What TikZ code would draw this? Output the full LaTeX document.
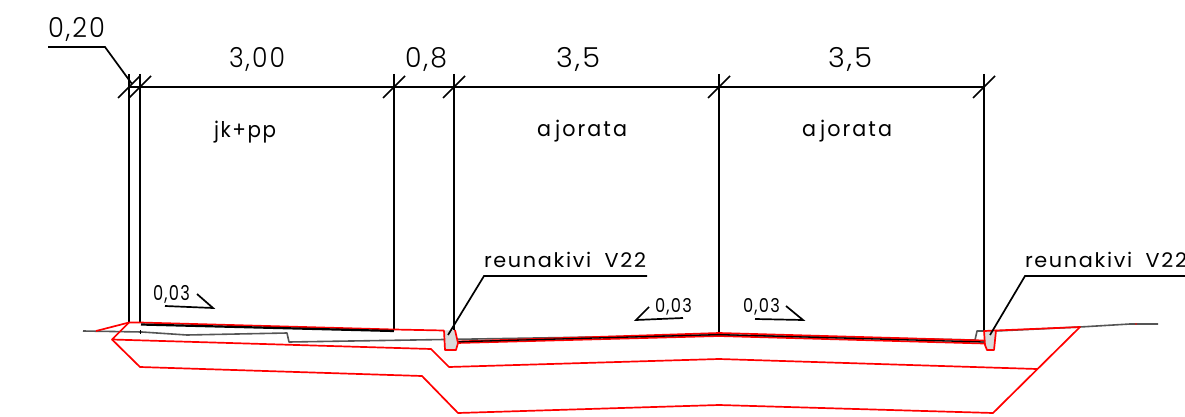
\documentclass[tikz,border=0pt]{standalone}
\usepackage{fontspec}
\usepackage{graphicx}
\newfontfamily\cadfont[LetterSpace=8]{Poppins Light}
\newfontfamily\cadsmall[LetterSpace=8]{Poppins}
\newsavebox\cadbox
\newlength\cadh
% font, width, target height of reference glyph, reference glyph, text
\newcommand\cadt[5]{%
  \settoheight{\cadh}{\fontsize{20}{20}#1\selectfont{}#4}%
  \sbox\cadbox{\fontsize{20}{20}#1\selectfont{}#5}%
  \ht\cadbox=\cadh \dp\cadbox=0pt
  \resizebox{#2pt}{#3pt}{\usebox\cadbox}}
\definecolor{roadred}{RGB}{255,0,0}
\definecolor{oldground}{RGB}{85,85,85}
\definecolor{stone}{RGB}{217,217,217}
\tikzset{x=1pt,y=-1pt,
  blk/.style={draw=black,line width=1.7pt},
  thin blk/.style={draw=black,line width=1.5pt},
  rd/.style={draw=roadred,line width=1.7pt,line join=round},
  gnd/.style={draw=oldground,line width=1.6pt,line join=round},
  curb/.style={fill=stone,draw=roadred,line width=1.7pt,line join=round},
  lab/.style={anchor=base west,inner sep=0pt,outer sep=0pt}}
\begin{document}
\begin{tikzpicture}
\useasboundingbox (0,0) rectangle (1185,417);
% ground line
\draw[gnd] (83,331) -- (142,332) -- (187,335) -- (287,333) -- (289,342) -- (444,339.5) -- (719,335) -- (975,340) -- (977,331) -- (996,331) -- (1080,327) -- (1130,324) -- (1158,324);
\draw[blk,line width=1.2pt] (140.5,330) -- (140.5,334);
% vertical lines
\foreach \n/\x/\b in {a/129/322,b/140/323,c/394/330,d/454/333,e/719/333,f/984/332}{
  \coordinate (t\n) at (\x,74);
  \coordinate (g\n) at (\x,\b);
  \draw[blk] (t\n) -- (g\n);
}
% dimension line and ticks
\coordinate (dimL) at (129,87);
\coordinate (dimR) at (984,87);
\draw[blk] (dimL) -- (dimR);
\foreach \x in {129,140,394,454,719,984}{
  \draw[thin blk] (\x-11,98) -- (\x+11,76);
}
% red layers
\draw[rd] (96,331) -- (129,322.5) -- (140,322.5) -- (394,329.5) -- (444,330.5);
\draw[rd] (457,341.5) -- (719,333) -- (984,340.5);
\draw[rd] (457,343) -- (719,336) -- (984,343.5);
\draw[rd] (129,322.5) -- (112,339.5) -- (431,349) -- (449,367) -- (719,359) -- (1037,369);
\draw[rd] (112,339.5) -- (140,367) -- (422,376) -- (458,413) -- (719,405) -- (993,413) -- (1080,327) -- (996,330.5);
\fill[roadred] (1136,324) circle (0.9);
% surface thick lines
\draw[blk,line width=2.2pt] (141,324.5) -- (394,331);
\draw[blk,line width=1.3pt] (457,341.8) -- (719,334.6) -- (984,342);
% curbs
\draw[curb] (444,330.5) -- (445,350) -- (456,350) -- (458,343) -- (455,330);
\draw[curb] (984,331) -- (985,345) -- (987,350) -- (994,350) -- (996,330.5) -- cycle;
% leaders
\coordinate (lead20a) at (48,47);
\coordinate (lead20b) at (105,47);
\coordinate (lead20c) at (132,84);
\draw[blk] (lead20a) -- (lead20b) -- (lead20c);
\coordinate (leadLa) at (647,276);
\coordinate (leadLb) at (484,276);
\coordinate (leadLc) at (448,335);
\draw[blk] (leadLa) -- (leadLb) -- (leadLc);
\coordinate (leadRa) at (1190,276);
\coordinate (leadRb) at (1025,276);
\coordinate (leadRc) at (990,335);
\draw[blk] (leadRa) -- (leadRb) -- (leadRc);
% slope marks
\draw[blk,line join=miter] (165,306) -- (213,308) -- (197,294);
\draw[blk,line join=miter] (683,318) -- (636,320) -- (649,307);
\draw[blk,line join=miter] (755,319) -- (803,320) -- (786,306);
% texts
\node[lab] (d020) at (48,38) {\cadt{\cadfont}{57}{20}{0}{0,20}};
\node[lab] (d300) at (229,68) {\cadt{\cadfont}{56}{20}{0}{3,00}};
\node[lab] (d08) at (405,68) {\cadt{\cadfont}{42}{20}{0}{0,8}};
\node[lab] (d35a) at (556,68) {\cadt{\cadfont}{44}{20}{0}{3,5}};
\node[lab] (d35b) at (828,68) {\cadt{\cadfont}{44}{20}{0}{3,5}};
\node[lab] (tjk) at (214,137) {\cadt{\cadsmall}{62}{16}{k}{jk+pp}};
\node[lab] (taj1) at (537,136) {\cadt{\cadsmall}{90}{12}{a}{a\hspace{4pt}j\hspace{2pt}o\hspace{2pt}r\hspace{2pt}a\hspace{2pt}t\hspace{2pt}a}};
\node[lab] (taj2) at (802,136) {\cadt{\cadsmall}{90}{12}{a}{a\hspace{4pt}j\hspace{2pt}o\hspace{2pt}r\hspace{2pt}a\hspace{2pt}t\hspace{2pt}a}};
\node[lab] (tre1) at (484,267) {\cadt{\cadsmall}{162}{14}{V}{reunakivi\hspace{6pt} V22}};
\node[lab] (tre2) at (1025,267) {\cadt{\cadsmall}{162}{14}{V}{reunakivi\hspace{6pt} V22}};
\node[lab] (s1) at (153,300) {\cadt{\cadsmall}{37}{15}{0}{0,03}};
\node[lab] (s2) at (655,312) {\cadt{\cadsmall}{37}{14}{0}{0,03}};
\node[lab] (s3) at (743,312) {\cadt{\cadsmall}{37}{14}{0}{0,03}};
\end{tikzpicture}
\end{document}
